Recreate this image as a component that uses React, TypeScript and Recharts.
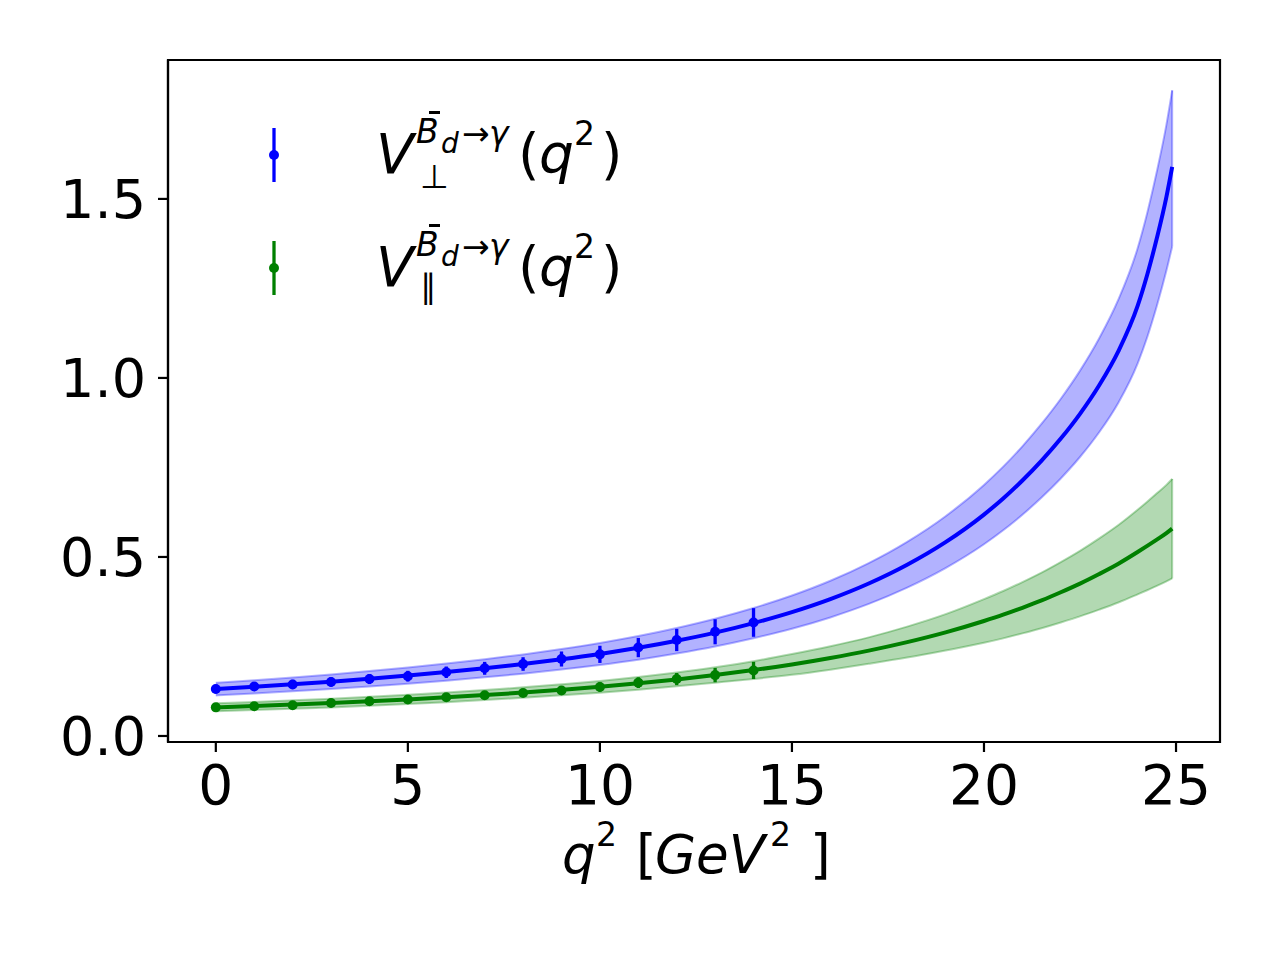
import React from 'react';
import { ComposedChart, Line, Area, Scatter, ErrorBar, XAxis, YAxis, ReferenceArea, ReferenceLine } from 'recharts';

// q^2 grid for the fitted curves
const qGrid = [0, 1, 2, 3, 4, 5, 6, 7, 8, 9, 10, 11, 12, 13, 14, 15, 16, 17, 18, 19, 20, 20.5, 21, 21.5, 22, 22.5, 23, 23.5, 24, 24.25, 24.5, 24.75, 24.9];

// V_perp fit: central, upper, lower
const perpLine = [0.1310, 0.1374, 0.1443, 0.1517, 0.1598, 0.1687, 0.1784, 0.1891, 0.2010, 0.2142, 0.2291, 0.2462, 0.2659, 0.2886, 0.3152, 0.3459, 0.3823, 0.4259, 0.4783, 0.5414, 0.6184, 0.6633, 0.7135, 0.7691, 0.8306, 0.8998, 0.9796, 1.0751, 1.2013, 1.2884, 1.3901, 1.5059, 1.5895];
const perpHi = [0.1486, 0.1558, 0.1636, 0.1720, 0.1812, 0.1913, 0.2023, 0.2144, 0.2279, 0.2429, 0.2598, 0.2792, 0.3015, 0.3273, 0.3574, 0.3923, 0.4335, 0.4830, 0.5424, 0.6139, 0.7013, 0.7522, 0.8091, 0.8722, 0.9419, 1.0204, 1.1109, 1.2192, 1.3623, 1.4610, 1.5764, 1.7077, 1.8030];
const perpLo = [0.1134, 0.1190, 0.1250, 0.1314, 0.1384, 0.1461, 0.1545, 0.1638, 0.1741, 0.1855, 0.1984, 0.2132, 0.2303, 0.2499, 0.2730, 0.2995, 0.3311, 0.3688, 0.4142, 0.4689, 0.5355, 0.5744, 0.6179, 0.6660, 0.7193, 0.7792, 0.8483, 0.9310, 1.0403, 1.1138, 1.2010, 1.3000, 1.3670];

// V_par fit: central, upper, lower
const parLine = [0.0800, 0.0837, 0.0877, 0.0921, 0.0969, 0.1022, 0.1080, 0.1143, 0.1213, 0.1289, 0.1372, 0.1470, 0.1580, 0.1703, 0.1841, 0.1999, 0.2180, 0.2385, 0.2622, 0.2895, 0.3212, 0.3388, 0.3581, 0.3787, 0.4014, 0.4256, 0.4524, 0.4811, 0.5137, 0.5308, 0.5484, 0.5665, 0.5790];
const parHi = [0.0912, 0.0950, 0.0995, 0.1043, 0.1095, 0.1152, 0.1215, 0.1283, 0.1359, 0.1442, 0.1534, 0.1646, 0.1773, 0.1918, 0.2090, 0.2289, 0.2507, 0.2755, 0.3055, 0.3402, 0.3822, 0.4049, 0.4297, 0.4563, 0.4857, 0.5171, 0.5519, 0.5893, 0.6319, 0.6545, 0.6778, 0.7013, 0.7180];
const parLo = [0.0688, 0.0724, 0.0759, 0.0799, 0.0843, 0.0892, 0.0945, 0.1003, 0.1067, 0.1136, 0.1210, 0.1294, 0.1387, 0.1488, 0.1592, 0.1709, 0.1853, 0.2015, 0.2189, 0.2388, 0.2602, 0.2727, 0.2865, 0.3011, 0.3171, 0.3341, 0.3529, 0.3729, 0.3955, 0.4071, 0.4190, 0.4317, 0.4400];

// data points with error bars
const qPoints = [0, 1, 2, 3, 4, 5, 6, 7, 8, 9, 10, 11, 12, 13, 14];
const perpPts = [0.131, 0.138, 0.144, 0.151, 0.159, 0.167, 0.178, 0.189, 0.201, 0.215, 0.228, 0.247, 0.268, 0.291, 0.317];
const perpErr = [0.012, 0.012, 0.013, 0.013, 0.014, 0.015, 0.016, 0.018, 0.019, 0.021, 0.024, 0.027, 0.031, 0.035, 0.040];
const parPts = [0.080, 0.083, 0.086, 0.092, 0.097, 0.102, 0.108, 0.114, 0.120, 0.127, 0.137, 0.149, 0.159, 0.170, 0.183];
const parErr = [0.007, 0.007, 0.007, 0.008, 0.008, 0.008, 0.009, 0.009, 0.010, 0.011, 0.013, 0.015, 0.017, 0.020, 0.024];

const xTicks = [0, 5, 10, 15, 20, 25];
const yTicks = [0, 0.5, 1.0, 1.5];
const xDomain: [number, number] = [-1.245, 26.145];
const yDomain: [number, number] = [-0.0168, 1.888];

const curveData = qGrid.map((q, i) => ({
  q,
  perp: perpLine[i],
  perpBand: [perpLo[i], perpHi[i]],
  par: parLine[i],
  parBand: [parLo[i], parHi[i]],
}));
const perpData = qPoints.map((q, i) => ({ q, v: perpPts[i], e: perpErr[i] }));
const parData = qPoints.map((q, i) => ({ q, v: parPts[i], e: parErr[i] }));

const last = qGrid.length - 1;
const bandEdges = [
  { color: '#0000ff', lo: perpLo, hi: perpHi },
  { color: '#008000', lo: parLo, hi: parHi },
];

const FONT = '"DejaVu Sans", sans-serif';

const dot = (color: string) => (props: any) => {
  const { cx, cy } = props;
  if (cx == null || cy == null) return <g />;
  return <circle cx={cx} cy={cy} r={5} fill={color} stroke="none" />;
};

const XLabel = (props: any) => {
  const vb = props.viewBox || { x: 168, y: 742, width: 1052, height: 218 };
  const cx = vb.x + vb.width / 2;
  const base = 873;
  const sup = base - 27;
  return (
    <g fontFamily={FONT} fill="#000">
      <text x={cx - 132} y={base} fontSize={53} fontStyle="italic">q</text>
      <text x={cx - 98} y={sup} fontSize={33}>2</text>
      <text x={cx - 58} y={base} fontSize={53}>[</text>
      <text x={cx - 39} y={base} fontSize={53} fontStyle="italic">GeV</text>
      <text x={cx + 76} y={sup} fontSize={33}>2</text>
      <text x={cx + 116} y={base} fontSize={53}>]</text>
    </g>
  );
};

const LegendEntry = ({ color, dy, sub }: { color: string; dy: number; sub: string }) => (
  <g transform={`translate(0, ${dy})`} fontFamily={FONT} fill="#000">
    <line x1={274} x2={274} y1={128} y2={182} stroke={color} strokeWidth={3.3} />
    <circle cx={274} cy={155} r={5} fill={color} />
    <text x={376} y={173} fontSize={55} fontStyle="italic">V</text>
    <text x={416} y={143} fontSize={33} fontStyle="italic">B</text>
    <line x1={429} x2={440} y1={112.5} y2={112.5} stroke="#000" strokeWidth={3} />
    <text x={441} y={153} fontSize={28} fontStyle="italic">d</text>
    <text x={462} y={145} fontSize={33}>{'\u2192'}</text>
    <text x={489} y={145} fontSize={33} fontStyle="italic">{'\u03b3'}</text>
    <text x={518} y={173} fontSize={55}>(</text>
    <text x={539} y={173} fontSize={55} fontStyle="italic">q</text>
    <text x={574} y={145} fontSize={33}>2</text>
    <text x={601} y={173} fontSize={55}>)</text>
    <text x={420} y={sub === '\u22a5' ? 188 : 185} fontSize={33}>{sub}</text>
  </g>
);

export default function App() {
  return (
    <div style={{ position: 'absolute', left: 0, top: 0, width: 1280, height: 960, background: '#fff' }}>
      <ComposedChart
        width={1280}
        height={960}
        data={curveData}
        margin={{ top: 60, right: 60, bottom: 0, left: 0 }}
      >
        <XAxis
          dataKey="q"
          type="number"
          domain={xDomain}
          ticks={xTicks}
          allowDataOverflow
          height={218}
          tickSize={10}
          tickMargin={13}
          tick={{ fill: '#000', fontSize: 55, fontFamily: FONT }}
          tickLine={{ stroke: '#000', strokeWidth: 2.2 }}
          axisLine={{ stroke: '#000', strokeWidth: 2.2 }}
          label={<XLabel />}
        />
        <YAxis
          type="number"
          domain={yDomain}
          ticks={yTicks}
          allowDataOverflow
          width={168}
          tickSize={10}
          tickMargin={12}
          tickFormatter={(v: number) => v.toFixed(1)}
          tick={{ fill: '#000', fontSize: 54, fontFamily: FONT }}
          tickLine={{ stroke: '#000', strokeWidth: 2.2 }}
          axisLine={{ stroke: '#000', strokeWidth: 2.2 }}
        />
        <Area
          dataKey="perpBand"
          type="monotone"
          fill="#0000ff"
          fillOpacity={0.3}
          stroke="#0000ff"
          strokeOpacity={0.3}
          strokeWidth={2}
          isAnimationActive={false}
        />
        <Area
          dataKey="parBand"
          type="monotone"
          fill="#008000"
          fillOpacity={0.3}
          stroke="#008000"
          strokeOpacity={0.3}
          strokeWidth={2}
          isAnimationActive={false}
        />
        {bandEdges.map((b) => (
          <ReferenceLine
            key={b.color + 'end'}
            segment={[{ x: qGrid[last], y: b.lo[last] }, { x: qGrid[last], y: b.hi[last] }]}
            stroke={b.color}
            strokeOpacity={0.3}
            strokeWidth={2}
          />
        ))}
        <Line dataKey="perp" type="monotone" stroke="#0000ff" strokeWidth={4} dot={false} isAnimationActive={false} />
        <Line dataKey="par" type="monotone" stroke="#008000" strokeWidth={4} dot={false} isAnimationActive={false} />
        <Scatter data={perpData} dataKey="v" fill="#0000ff" shape={dot('#0000ff')} isAnimationActive={false}>
          <ErrorBar dataKey="e" direction="y" width={0} stroke="#0000ff" strokeWidth={3.3} />
        </Scatter>
        <Scatter data={parData} dataKey="v" fill="#008000" shape={dot('#008000')} isAnimationActive={false}>
          <ErrorBar dataKey="e" direction="y" width={0} stroke="#008000" strokeWidth={3.3} />
        </Scatter>
        <ReferenceArea
          x1={xDomain[0]}
          x2={xDomain[1]}
          y1={yDomain[0]}
          y2={yDomain[1]}
          fill="none"
          stroke="#000"
          strokeWidth={2.2}
          ifOverflow="visible"
        />
      </ComposedChart>
      <svg
        width={1280}
        height={960}
        style={{ position: 'absolute', left: 0, top: 0, pointerEvents: 'none' }}
      >
        <LegendEntry color="#0000ff" dy={0} sub={'\u22a5'} />
        <LegendEntry color="#008000" dy={113} sub={'\u2225'} />
      </svg>
    </div>
  );
}
